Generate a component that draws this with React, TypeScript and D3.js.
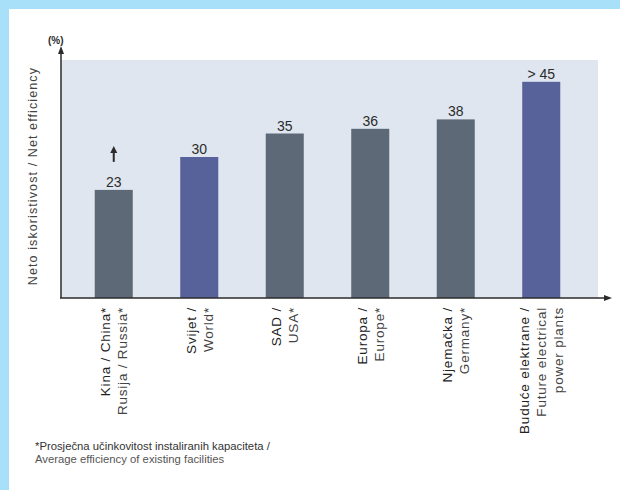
import React from "react";
import * as d3 from "d3";

// ── Data ──────────────────────────────────────────────────────────────────────

const CATEGORIES: string[][] = [
  ["Kina / China*", "Rusija / Russia*"],
  ["Svijet /", "World*"],
  ["SAD /", "USA*"],
  ["Europa /", "Europe*"],
  ["Njemačka /", "Germany*"],
  ["Buduće elektrane /", "Future electrical", "power plants"],
];

const VALUES: number[] = [23, 30, 35, 36, 38, 46];
const VALUE_LABELS: string[] = ["23", "30", "35", "36", "38", "> 45"];
const HIGHLIGHT: boolean[] = [false, true, false, false, false, true];

const Y_TITLE = "Neto iskoristivost / Net efficiency";
const Y_UNIT = "(%)";
const FOOTNOTE = [
  "*Prosječna učinkovitost instaliranih kapaciteta /",
  "Average efficiency of existing facilities",
];

// ── Style ─────────────────────────────────────────────────────────────────────

const W = 620;
const H = 490;
const FONT = "'Liberation Sans', Arial, sans-serif";
const FRAME = "#a8e0fa";
const PLOT_BG = "#dfe6f0";
const BAR_GREY = "#5e6978";
const BAR_BLUE = "#57629a";
const INK = "#2b2b2b";

const margin = { top: 63, right: 8, bottom: 192, left: 61 };
const axisY = H - margin.bottom; // 298

export default function App() {
  const ids = CATEGORIES.map((_, i) => String(i));

  const x = d3
    .scaleBand<string>()
    .domain(ids)
    .range([71, 584])
    .paddingInner(0.555)
    .paddingOuter(0.2775);

  const y = d3.scaleLinear().domain([0, 50]).range([axisY, margin.top]);

  const lineGap = 17;

  return (
    <svg
      width={W}
      height={H}
      style={{ position: "absolute", left: 0, top: 0, display: "block" }}
      fontFamily={FONT}
    >
      {/* frame */}
      <rect x={0} y={0} width={W} height={H} fill={FRAME} />
      <rect x={9} y={9} width={W - 9} height={H - 9} fill="#fff" />

      {/* plot background */}
      <rect x={margin.left} y={60} width={598 - margin.left} height={axisY - 60} fill={PLOT_BG} />

      {/* bars */}
      {VALUES.map((v, i) => (
        <rect
          key={i}
          x={x(String(i))!}
          y={y(v)}
          width={x.bandwidth()}
          height={axisY - y(v)}
          fill={HIGHLIGHT[i] ? BAR_BLUE : BAR_GREY}
        />
      ))}

      {/* value labels */}
      {VALUES.map((v, i) => (
        <text
          key={i}
          x={x(String(i))! + x.bandwidth() / 2}
          y={y(v) - 3}
          textAnchor="middle"
          fontSize={14}
          fill={INK}
        >
          {VALUE_LABELS[i]}
        </text>
      ))}

      {/* rising arrow above the first bar */}
      {(() => {
        const cx = x("0")! + x.bandwidth() / 2;
        const top = y(VALUES[0]);
        return (
          <g>
            <line x1={cx} x2={cx} y1={top - 28} y2={top - 38} stroke={INK} strokeWidth={2} />
            <path
              d={`M${cx - 3.5},${top - 37} L${cx},${top - 44} L${cx + 3.5},${top - 37} Z`}
              fill={INK}
            />
          </g>
        );
      })()}

      {/* axes */}
      <line x1={margin.left} x2={margin.left} y1={axisY} y2={52} stroke={INK} strokeWidth={1.5} />
      <path
        d={`M${margin.left - 3},${54} L${margin.left},${46} L${margin.left + 3},${54} Z`}
        fill={INK}
      />
      <line x1={margin.left - 1} x2={606} y1={axisY} y2={axisY} stroke={INK} strokeWidth={1.5} />
      <path d={`M${604},${axisY - 3} L${612},${axisY} L${604},${axisY + 3} Z`} fill={INK} />

      <text x={margin.left - 13} y={44} fontSize={10} fill={INK} fontWeight="bold">
        {Y_UNIT}
      </text>

      {/* y title */}
      <text
        transform={`translate(37,${67}) rotate(-90)`}
        textAnchor="end"
        fontSize={12.5}
        letterSpacing={1.1}
        fill="#444"
      >
        {Y_TITLE}
      </text>

      {/* category labels */}
      {CATEGORIES.map((lines, i) => {
        const cx = x(String(i))! + x.bandwidth() / 2;
        const n = lines.length;
        return lines.map((ln, j) => {
          const lx = cx + (j - (n - 1) / 2) * lineGap + 5;
          return (
            <text
              key={`${i}-${j}`}
              transform={`translate(${lx},${axisY + 9}) rotate(-90)`}
              textAnchor="end"
              fontSize={13.5}
              letterSpacing={0.8}
              fill={j === 0 ? "#222" : "#444"}
            >
              {ln}
            </text>
          );
        });
      })}

      {/* footnote */}
      {FOOTNOTE.map((ln, i) => (
        <text
          key={i}
          x={35}
          y={450 + i * 13}
          fontSize={11.3}
          fill={i === 0 ? "#333" : "#555"}
        >
          {ln}
        </text>
      ))}
    </svg>
  );
}
